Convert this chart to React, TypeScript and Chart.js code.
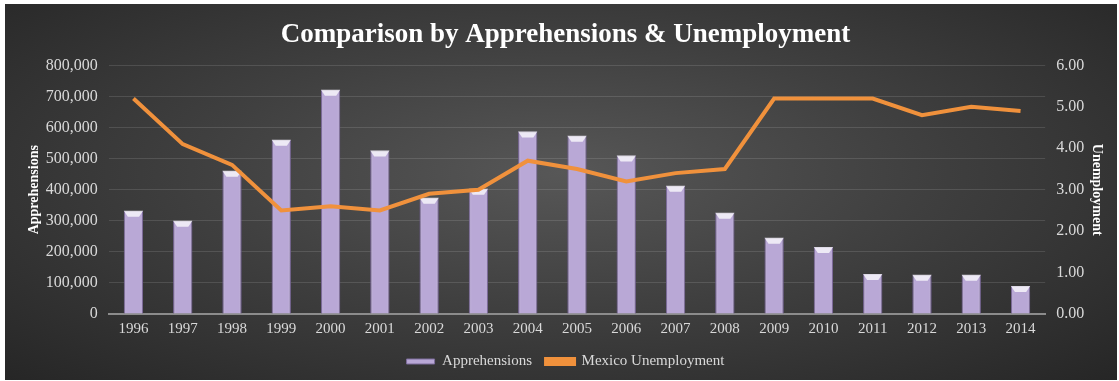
import React, { useEffect, useRef } from "react";
import { Chart, registerables } from "chart.js";

Chart.register(...registerables);

const years = ["1996","1997","1998","1999","2000","2001","2002","2003","2004","2005","2006","2007","2008","2009","2010","2011","2012","2013","2014"];
const apprehensions = [332000,300000,461000,561000,722000,526000,374000,403000,587000,574000,510000,413000,326000,245000,216000,129000,126000,126000,90000];
const unemployment = [5.2,4.1,3.6,2.5,2.6,2.5,2.9,3.0,3.7,3.5,3.2,3.4,3.5,5.2,5.2,5.2,4.8,5.0,4.9];

const FONT = "'Liberation Serif', 'Times New Roman', serif";
const TXT = "#d9d9d9";

const bevelPlugin = {
  id: "bevel",
  afterDatasetDraw(chart: any, args: any) {
    if (args.index !== 0) return;
    const ctx = chart.ctx;
    const meta = chart.getDatasetMeta(0);
    ctx.save();
    meta.data.forEach((bar: any) => {
      const { x, y, width } = bar.getProps(["x", "y", "width"], true);
      const l = x - width / 2, r = x + width / 2;
      const h = 6;
      ctx.beginPath();
      ctx.moveTo(l, y);
      ctx.lineTo(r, y);
      ctx.lineTo(r - 4, y + h);
      ctx.lineTo(l + 4, y + h);
      ctx.closePath();
      ctx.fillStyle = "rgba(255,255,255,0.75)";
      ctx.fill();
      const base = bar.base;
      const g = ctx.createLinearGradient(l, 0, r, 0);
      g.addColorStop(0, "rgba(90,70,120,0.35)");
      g.addColorStop(0.15, "rgba(255,255,255,0)");
      g.addColorStop(0.85, "rgba(255,255,255,0)");
      g.addColorStop(1, "rgba(90,70,120,0.35)");
      ctx.fillStyle = g;
      ctx.fillRect(l, y + h, width, base - y - h);
    });
    ctx.restore();
  },
};

export default function App() {
  const ref = useRef<HTMLCanvasElement>(null);
  useEffect(() => {
    document.body.style.margin = "0";
    const chart = new Chart(ref.current!, {
      type: "bar",
      data: {
        labels: years,
        datasets: [
          {
            type: "bar",
            label: "Apprehensions",
            data: apprehensions,
            backgroundColor: "#b9a8d6",
            borderColor: "#7d6c9c",
            borderWidth: 1,
            barPercentage: 0.39,
            categoryPercentage: 1,
            yAxisID: "y",
            order: 2,
          },
          {
            type: "line",
            label: "Mexico Unemployment",
            data: unemployment,
            borderColor: "#f0913c",
            backgroundColor: "#f0913c",
            borderWidth: 4,
            pointRadius: 0,
            tension: 0,
            yAxisID: "y1",
            order: 1,
          },
        ],
      },
      options: {
        animation: false,
        responsive: false,
        maintainAspectRatio: false,
        layout: { padding: { left: 23, right: 11, bottom: 2 } },
        plugins: {
          title: {
            display: true,
            text: "Comparison by Apprehensions & Unemployment",
            color: "#ffffff",
            font: { family: FONT, size: 27, weight: "bold" },
            padding: { top: 19, bottom: 14 },
          },
          legend: {
            position: "bottom",
            labels: {
              color: TXT,
              font: { family: FONT, size: 15 },
              boxWidth: 28,
              boxHeight: 5,
              padding: 14,
              sort: (a: any, b: any) => a.datasetIndex - b.datasetIndex,
            },
          },
          tooltip: { enabled: false },
        },
        scales: {
          x: {
            grid: { display: false, drawTicks: false },
            border: { color: "#8c8c8c", width: 2 },
            ticks: { color: TXT, font: { family: FONT, size: 15 }, padding: 6 },
            afterFit: (scale: any) => {
              scale.height -= 4;
            },
          },
          y: {
            position: "left",
            min: 0,
            max: 800000,
            ticks: {
              stepSize: 100000,
              color: TXT,
              font: { family: FONT, size: 16 },
              padding: 11,
              callback: (v: any) => Number(v).toLocaleString("en-US"),
            },
            grid: { color: "rgba(255,255,255,0.12)", drawTicks: false },
            border: { display: false },
            title: {
              display: true,
              text: "Apprehensions",
              color: "#ffffff",
              font: { family: FONT, size: 14, weight: "bold" },
              padding: 3,
            },
            afterFit: (scale: any) => {
              scale.width -= 11;
            },
          },
          y1: {
            position: "right",
            min: 0,
            max: 6,
            ticks: {
              stepSize: 1,
              color: TXT,
              font: { family: FONT, size: 16 },
              padding: 11,
              callback: (v: any) => Number(v).toFixed(2),
            },
            grid: { display: false, drawTicks: false },
            border: { display: false },
            title: {
              display: true,
              text: "Unemployment",
              color: "#ffffff",
              font: { family: FONT, size: 14, weight: "bold" },
              padding: 3,
            },
            afterFit: (scale: any) => {
              scale.width -= 10;
            },
          },
        },
      },
      plugins: [bevelPlugin],
    } as any);
    return () => chart.destroy();
  }, []);
  return (
    <div style={{ position: "absolute", left: 0, top: 0, width: 1119, height: 381, background: "#ffffff" }}>
      <div
        style={{
          position: "absolute",
          left: 5,
          top: 4,
          width: 1112,
          height: 376,
          background: "radial-gradient(ellipse at 50% 45%, #575757 0%, #404040 45%, #262626 100%)",
        }}
      />
      <canvas
        ref={ref}
        width={1119}
        height={381}
        style={{ position: "absolute", left: 0, top: 0, width: 1119, height: 381, display: "block" }}
      />
    </div>
  );
}
